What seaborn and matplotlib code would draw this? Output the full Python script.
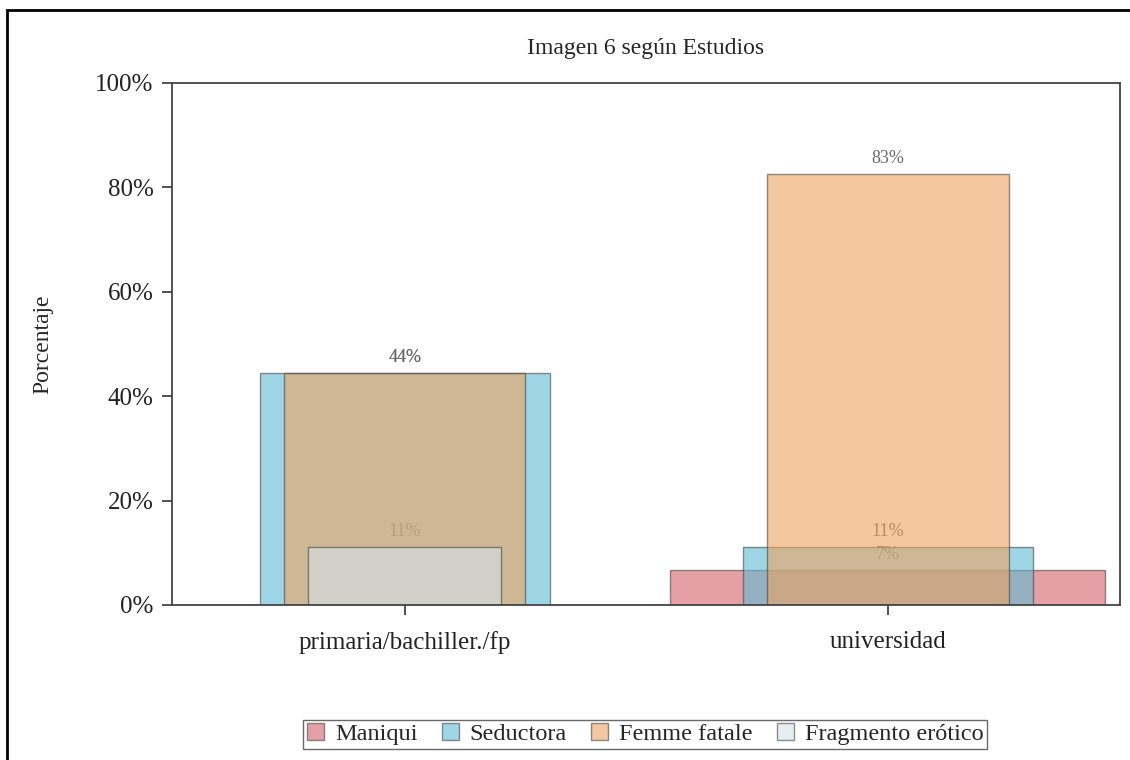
import pandas as pd
import matplotlib.pyplot as plt
import seaborn as sns
from matplotlib.patches import Patch, Rectangle

# datos
estudios = ["primaria/bachiller./fp", "universidad"]
series = ["Maniqui", "Seductora", "Femme fatale", "Fragmento erótico"]
maniqui = [None, 6.7]
seductora = [44.4, 11.1]
femme_fatale = [44.4, 82.6]
fragmento = [11.1, None]

colores = ["#D56169", "#5FBBD5", "#EEA361", "#D4E4EC"]
anchos = [0.90, 0.60, 0.50, 0.40]

sns.set_theme(style="white")
plt.rcParams['font.family'] = ['Liberation Serif', 'DejaVu Serif']

filas = []
for nombre, valores in zip(series, [maniqui, seductora, femme_fatale, fragmento]):
	for est, v in zip(estudios, valores):
		if v is not None:
			filas.append({"estudio": est, "serie": nombre, "pct": v})
df = pd.DataFrame(filas)

fig = plt.figure(figsize=(11.3, 7.6), dpi=100)
ax = fig.add_axes([0.152, 0.204, 0.839, 0.687])

for nombre, col, w in zip(series, colores, anchos):
	sub = df[df["serie"] == nombre]
	sns.barplot(data=sub, x="estudio", y="pct", order=estudios, width=w,
				color=col, alpha=0.6, saturation=1, edgecolor="#444444",
				linewidth=1, errorbar=None, ax=ax)

# etiquetas de porcentaje (debajo de las barras para que se tiñan)
for cont in ax.containers:
	txts = ax.bar_label(cont, fmt="{:.0f}%", padding=5, fontsize=13, color="#6a6a6a")
	for t in txts:
		t.set_zorder(0.5)

ax.set_xlim(-0.482, 1.48)
ax.set_ylim(0, 100)
ax.set_yticks([0, 20, 40, 60, 80, 100])
ax.set_yticklabels([f"{v}%" for v in [0, 20, 40, 60, 80, 100]])
ax.set_xlabel("")
ax.set_ylabel("Porcentaje", fontsize=17, labelpad=30)
ax.tick_params(axis="both", labelsize=18, length=7, width=1.2, color="#333333",
			   direction="out", left=True, bottom=True, labelcolor="#222222")
ax.tick_params(axis="y", pad=6)
ax.tick_params(axis="x", pad=12)
for s in ax.spines.values():
	s.set_color("#444444")
	s.set_linewidth(1.3)

ax.set_title("Imagen 6 según Estudios", fontsize=17, pad=21)

handles = [Patch(facecolor=c, alpha=0.6, edgecolor="#444444") for c in colores]
fig.legend(handles, series, loc="center", bbox_to_anchor=(0.571, 0.034), ncol=4,
		   fontsize=17.5, frameon=True, fancybox=False, edgecolor="#444444",
		   handlelength=0.7, handleheight=0.7, handletextpad=0.45, columnspacing=1.0,
		   borderpad=0.15, borderaxespad=0)

# marco recortado de la imagen original
fig.patches.append(Rectangle((0.006, -0.5), 1.5, 1.487, transform=fig.transFigure,
							 fill=False, edgecolor="black", linewidth=2))

fig.savefig("out.png", dpi=100)
